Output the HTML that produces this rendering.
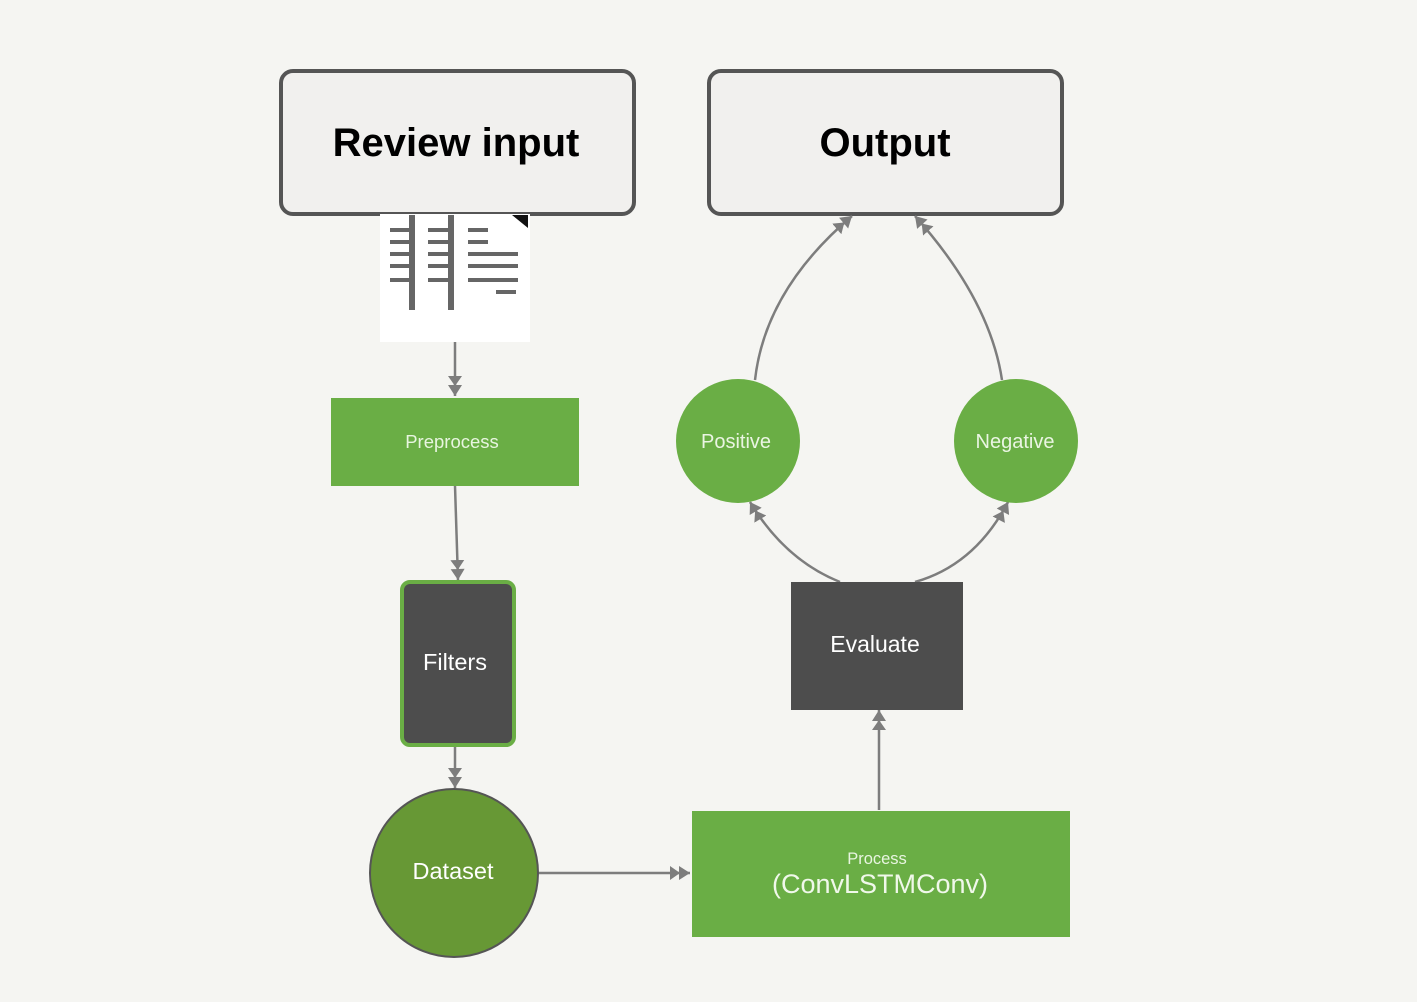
<!DOCTYPE html>
<html><head><meta charset="utf-8"><style>
body{margin:0;background:#f5f5f2;}
svg{display:block;font-family:"Liberation Sans",sans-serif;}
</style></head><body>
<svg width="1417" height="1002" viewBox="0 0 1417 1002">
<defs>
<marker id="b" markerWidth="22" markerHeight="14" refX="20" refY="7" orient="auto" markerUnits="userSpaceOnUse">
<path d="M0,0 L10,7 L0,14 Z M9,0 L20,7 L9,14 Z" fill="#7d7d7d"/>
</marker>
</defs>
<rect width="1417" height="1002" fill="#f5f5f2"/>
<rect x="281" y="71" width="353" height="143" rx="12" fill="#f1f0ee" stroke="#555" stroke-width="4"/>
<text x="456" y="156" text-anchor="middle" font-size="40" font-weight="bold" fill="#000">Review input</text>
<rect x="709" y="71" width="353" height="143" rx="12" fill="#f1f0ee" stroke="#555" stroke-width="4"/>
<text x="885" y="156" text-anchor="middle" font-size="40" font-weight="bold" fill="#000">Output</text>
<rect x="380" y="214" width="150" height="128" fill="#fff"/>
<g fill="#666">
<rect x="409" y="215" width="6" height="95"/><rect x="448" y="215" width="6" height="95"/>
<rect x="390" y="228" width="25" height="4"/><rect x="390" y="240" width="25" height="4"/><rect x="390" y="252" width="25" height="4"/><rect x="390" y="264" width="25" height="4"/><rect x="390" y="278" width="25" height="4"/>
<rect x="428" y="228" width="25" height="4"/><rect x="428" y="240" width="25" height="4"/><rect x="428" y="252" width="25" height="4"/><rect x="428" y="264" width="25" height="4"/><rect x="428" y="278" width="25" height="4"/>
<rect x="468" y="228" width="20" height="4"/><rect x="468" y="240" width="20" height="4"/><rect x="468" y="252" width="50" height="4"/><rect x="468" y="264" width="50" height="4"/><rect x="468" y="278" width="50" height="4"/><rect x="496" y="290" width="20" height="4"/>
<path d="M512,215 L528,215 L528,228 Z" fill="#111"/>
</g>
<g stroke="#7d7d7d" stroke-width="2.5" fill="none">
<line x1="455" y1="342" x2="455" y2="396" marker-end="url(#b)"/>
<line x1="455" y1="486" x2="458" y2="580" marker-end="url(#b)"/>
<line x1="455" y1="746" x2="455" y2="788" marker-end="url(#b)"/>
<line x1="539" y1="873" x2="690" y2="873" marker-end="url(#b)"/>
<line x1="879" y1="810" x2="879" y2="710" marker-end="url(#b)"/>
<path d="M840,582 Q785,560 750,502" marker-end="url(#b)"/>
<path d="M915,582 Q975,565 1008,502" marker-end="url(#b)"/>
<path d="M755,380 Q765,290 852,216" marker-end="url(#b)"/>
<path d="M1002,380 Q990,300 915,216" marker-end="url(#b)"/>
</g>
<rect x="331" y="398" width="248" height="88" fill="#6aae45"/>
<text x="452" y="448" text-anchor="middle" font-size="18.5" fill="#e8f5e0">Preprocess</text>
<rect x="402" y="582" width="112" height="163" rx="8" fill="#4d4d4d" stroke="#6aae45" stroke-width="4"/>
<text x="455" y="670" text-anchor="middle" font-size="23.5" fill="#fff">Filters</text>
<circle cx="454" cy="873" r="84" fill="#679835" stroke="#555" stroke-width="2"/>
<text x="453" y="879" text-anchor="middle" font-size="23.5" fill="#fff">Dataset</text>
<rect x="692" y="811" width="378" height="126" fill="#6aae45"/>
<text x="877" y="864" text-anchor="middle" font-size="16.5" fill="#e8f5e0">Process</text>
<text x="880" y="893" text-anchor="middle" font-size="27" fill="#f0f8ea">(ConvLSTMConv)</text>
<rect x="791" y="582" width="172" height="128" fill="#4d4d4d"/>
<text x="875" y="652" text-anchor="middle" font-size="23" fill="#fff">Evaluate</text>
<circle cx="738" cy="441" r="62" fill="#6aae45"/>
<text x="736" y="448" text-anchor="middle" font-size="20" fill="#eaf5e2">Positive</text>
<circle cx="1016" cy="441" r="62" fill="#6aae45"/>
<text x="1015" y="448" text-anchor="middle" font-size="20" fill="#eaf5e2">Negative</text>
</svg>
</body></html>
